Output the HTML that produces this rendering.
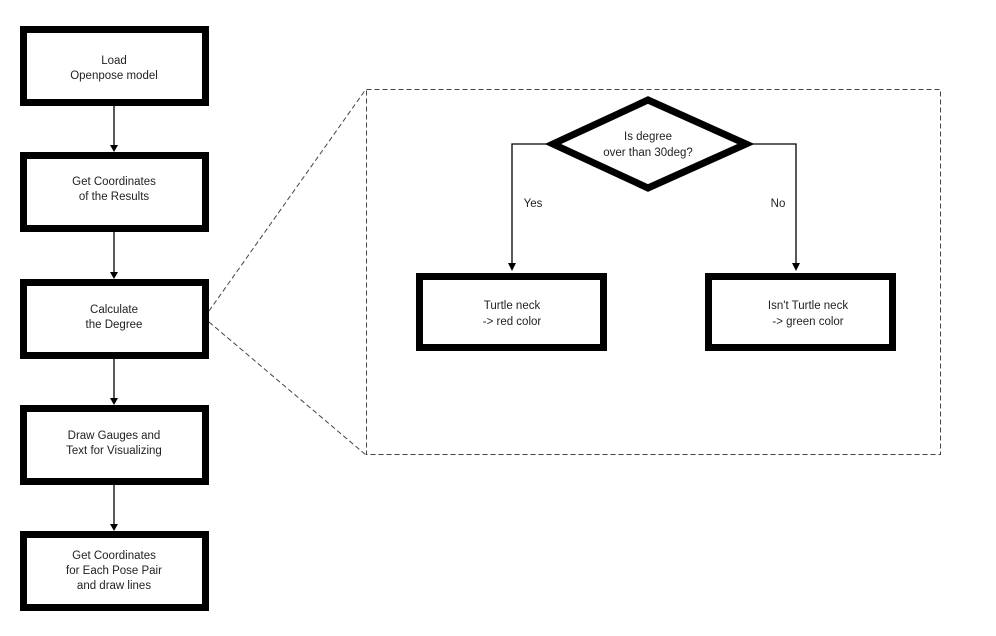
<!DOCTYPE html>
<html><head><style>
body{margin:0;background:#fff;}
svg text{font-family:"Liberation Sans",sans-serif;font-size:11.5px;fill:#222;text-anchor:middle;}
</style></head><body>
<svg width="996" height="631" viewBox="0 0 996 631" xmlns="http://www.w3.org/2000/svg">
<defs><marker id="a" markerWidth="8" markerHeight="8" refX="4" refY="7" orient="auto" markerUnits="userSpaceOnUse"><path d="M0,0 L8,0 L4,8z" fill="#000" transform="rotate(-90 4 4)"/></marker></defs>
<g fill="#fff" stroke="#000" stroke-width="7">
<rect x="23.5" y="29.5" width="182" height="73"/>
<rect x="23.5" y="155.5" width="182" height="73"/>
<rect x="23.5" y="282.5" width="182" height="73"/>
<rect x="23.5" y="408.5" width="182" height="73"/>
<rect x="23.5" y="534.5" width="182" height="73"/>
<rect x="419.5" y="276.5" width="184" height="71"/>
<rect x="708.5" y="276.5" width="184" height="71"/>
<polygon points="648,100 746,144 648,188 553,144"/>
</g>
<g stroke="#000" stroke-width="1.3" fill="none">
<path d="M114,106V146"/><path d="M114,232V273"/><path d="M114,358V399"/><path d="M114,485V525"/>
<path d="M548,144H512V264"/><path d="M751,144H796V264"/>
</g>
<g fill="#000">
<path d="M110,145h8l-4,7z"/><path d="M110,272h8l-4,7z"/><path d="M110,398h8l-4,7z"/><path d="M110,524h8l-4,7z"/>
<path d="M508,263h8l-4,8z"/><path d="M792,263h8l-4,8z"/>
</g>
<g stroke="#444" stroke-width="1" stroke-dasharray="5,3" fill="none">
<rect x="366.5" y="89.5" width="574" height="365"/>
<path d="M209,311L366,89"/><path d="M209,322L366,455"/>
</g>
<text x="114" y="64">Load</text><text x="114" y="79">Openpose model</text>
<text x="114" y="185">Get Coordinates</text><text x="114" y="200">of the Results</text>
<text x="114" y="313">Calculate</text><text x="114" y="328">the Degree</text>
<text x="114" y="439">Draw Gauges and</text><text x="114" y="454">Text for Visualizing</text>
<text x="114" y="559">Get Coordinates</text><text x="114" y="574">for Each Pose Pair</text><text x="114" y="589">and draw lines</text>
<text x="648" y="140">Is degree</text><text x="648" y="156">over than 30deg?</text>
<text x="533" y="207">Yes</text><text x="778" y="207">No</text>
<text x="512" y="309">Turtle neck</text><text x="512" y="325">-&gt; red color</text>
<text x="808" y="309">Isn't Turtle neck</text><text x="808" y="325">-&gt; green color</text>
</svg>
</body></html>
